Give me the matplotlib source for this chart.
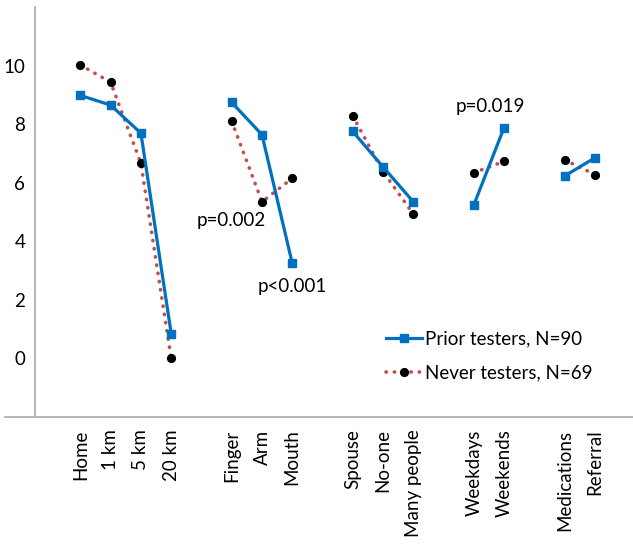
import numpy as np
import matplotlib.pyplot as plt

plt.rcParams['font.family'] = ['Lato', 'DejaVu Sans']

# categories grouped, gap of one slot between groups
groups = [
    ['Home', '1 km', '5 km', '20 km'],
    ['Finger', 'Arm', 'Mouth'],
    ['Spouse', 'No-one', 'Many people'],
    ['Weekdays', 'Weekends'],
    ['Medications', 'Referral'],
]
prior = [
    [8.98, 8.65, 7.69, 0.85],
    [8.74, 7.64, 3.25],
    [7.75, 6.54, 5.35],
    [5.24, 7.88],
    [6.23, 6.85],
]
never = [
    [10.02, 9.43, 6.66, 0.0],
    [8.10, 5.35, 6.15],
    [8.28, 6.38, 4.93],
    [6.34, 6.73],
    [6.78, 6.28],
]
pvals = [('p=0.002', 5.0, 4.72), ('p<0.001', 7.0, 2.45), ('p=0.019', 13.55, 8.6)]

blue = '#0070C0'
red = '#C0504D'
gray = '#B0B0B0'
fs = 13.5

fig = plt.figure(figsize=(6.33, 5.47), dpi=100)
ax = fig.add_axes([35/633, 1 - 417/547, 598/633, 410/547])

pos = 0
ticks, labels = [], []
for g, p, n in zip(groups, prior, never):
    x = np.arange(pos, pos + len(g))
    ax.plot(x, n, color=red, lw=2.6, linestyle=(0, (0.1, 2.2)), dash_capstyle='round',
            marker='o', ms=5.6, mfc='black', mec='black', zorder=2,
            label='Never testers, N=69' if pos == 0 else None)
    ax.plot(x, p, color=blue, lw=2.3, marker='s', ms=5.4, mfc=blue, mec=blue, zorder=3,
            label='Prior testers, N=90' if pos == 0 else None)
    ticks += list(x)
    labels += g
    pos += len(g) + 1

for txt, xx, yy in pvals:
    ax.text(xx, yy, txt, ha='center', va='center', fontsize=fs)

ax.set_xlim(-1.5, 18.26)
ax.set_ylim(-2, 12)
ax.set_yticks(range(0, 11, 2))
ax.set_xticks(ticks)
ax.set_xticklabels(labels, rotation=90, fontsize=fs)
ax.tick_params(axis='both', length=0, labelsize=fs)
ax.tick_params(axis='x', pad=9)
ax.tick_params(axis='y', pad=7)
for s in ['top', 'right']:
    ax.spines[s].set_visible(False)
for s in ['left', 'bottom']:
    ax.spines[s].set_color(gray)
    ax.spines[s].set_linewidth(1.3)
# bottom line runs past the y axis to the left edge
ax.plot([-30/598, 0], [0, 0], transform=ax.transAxes, color=gray, lw=1.3, clip_on=False)

h, l = ax.get_legend_handles_labels()
ax.legend(h[::-1], l[::-1], loc='upper left', bbox_to_anchor=(344/598, 1 - 316/410),
          frameon=False, fontsize=fs, handlelength=1.9, handletextpad=0.15,
          labelspacing=0.9, borderaxespad=0)

fig.savefig('out.png', dpi=100)
